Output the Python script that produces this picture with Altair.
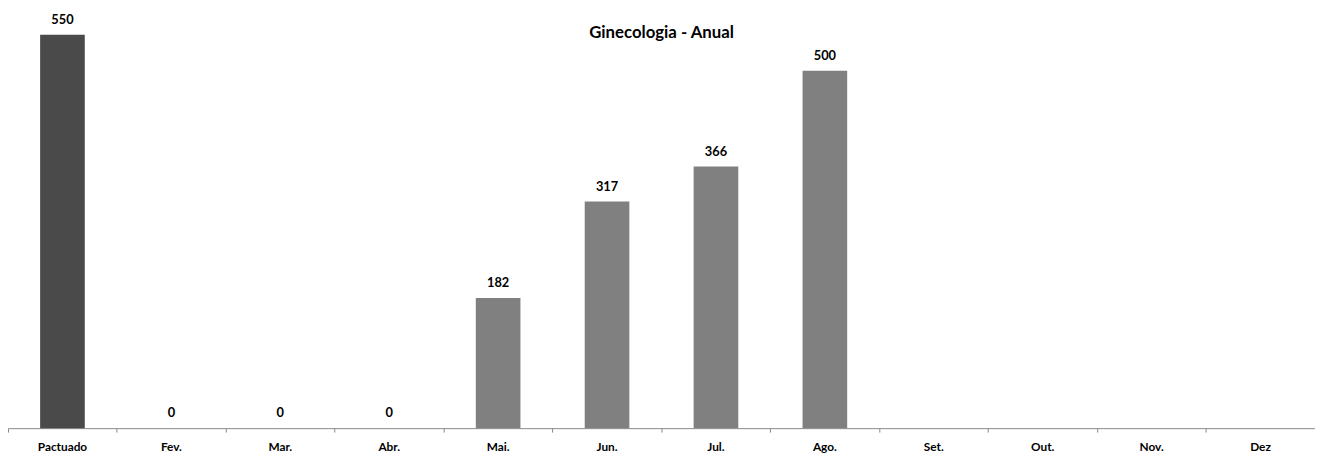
import altair as alt
import pandas as pd

categories = ["Pactuado", "Fev.", "Mar.", "Abr.", "Mai.", "Jun.", "Jul.", "Ago.", "Set.", "Out.", "Nov.", "Dez"]
values = [550, 0, 0, 0, 182, 317, 366, 500, None, None, None, None]
colors = ["#4a4a4a"] + ["#808080"] * 11

df = pd.DataFrame({"cat": categories, "val": values, "color": colors})

W, H = 1326, 399
FONT = "Lato"

x = alt.X("cat:N", sort=categories, title=None,
          scale=alt.Scale(paddingInner=0, paddingOuter=0),
          axis=alt.Axis(labelAngle=0, bandPosition=0, ticks=True, tickSize=4,
                        tickColor="#888888", domainColor="#888888", labelColor="#000000",
                        labelFont=FONT, labelFontSize=12, labelFontWeight="bold",
                        labelPadding=10, grid=False))
y = alt.Y("val:Q", title=None, scale=alt.Scale(domain=[0, 550], nice=False, zero=True),
          axis=None)

base = alt.Chart(df)
bars = base.mark_bar(width={"band": 0.41}).encode(
    x=x, y=y, color=alt.Color("color:N", scale=None)
)
labels = base.transform_filter("datum.val != null").mark_text(
    baseline="bottom", dy=-8, font=FONT, fontSize=13, fontWeight="bold", color="#000000"
).encode(x=alt.X("cat:N", sort=categories), y=alt.Y("val:Q"), text=alt.Text("val:Q"))

title = alt.Chart(pd.DataFrame({"t": ["Ginecologia - Anual"]})).mark_text(
    font=FONT, fontSize=17, fontWeight="bold", color="#000000", baseline="middle", align="center"
).encode(x=alt.value(W / 2), y=alt.value(-2), text="t:N")

chart = alt.layer(bars, labels, title).properties(
    width=W, height=H,
    autosize=alt.AutoSizeParams(type="none"),
    padding={"left": 0, "top": 24, "right": 0, "bottom": 26},
).configure(background="white").configure_view(stroke=None)

chart.save("out.html", embed_options={"renderer": "svg", "actions": False})
